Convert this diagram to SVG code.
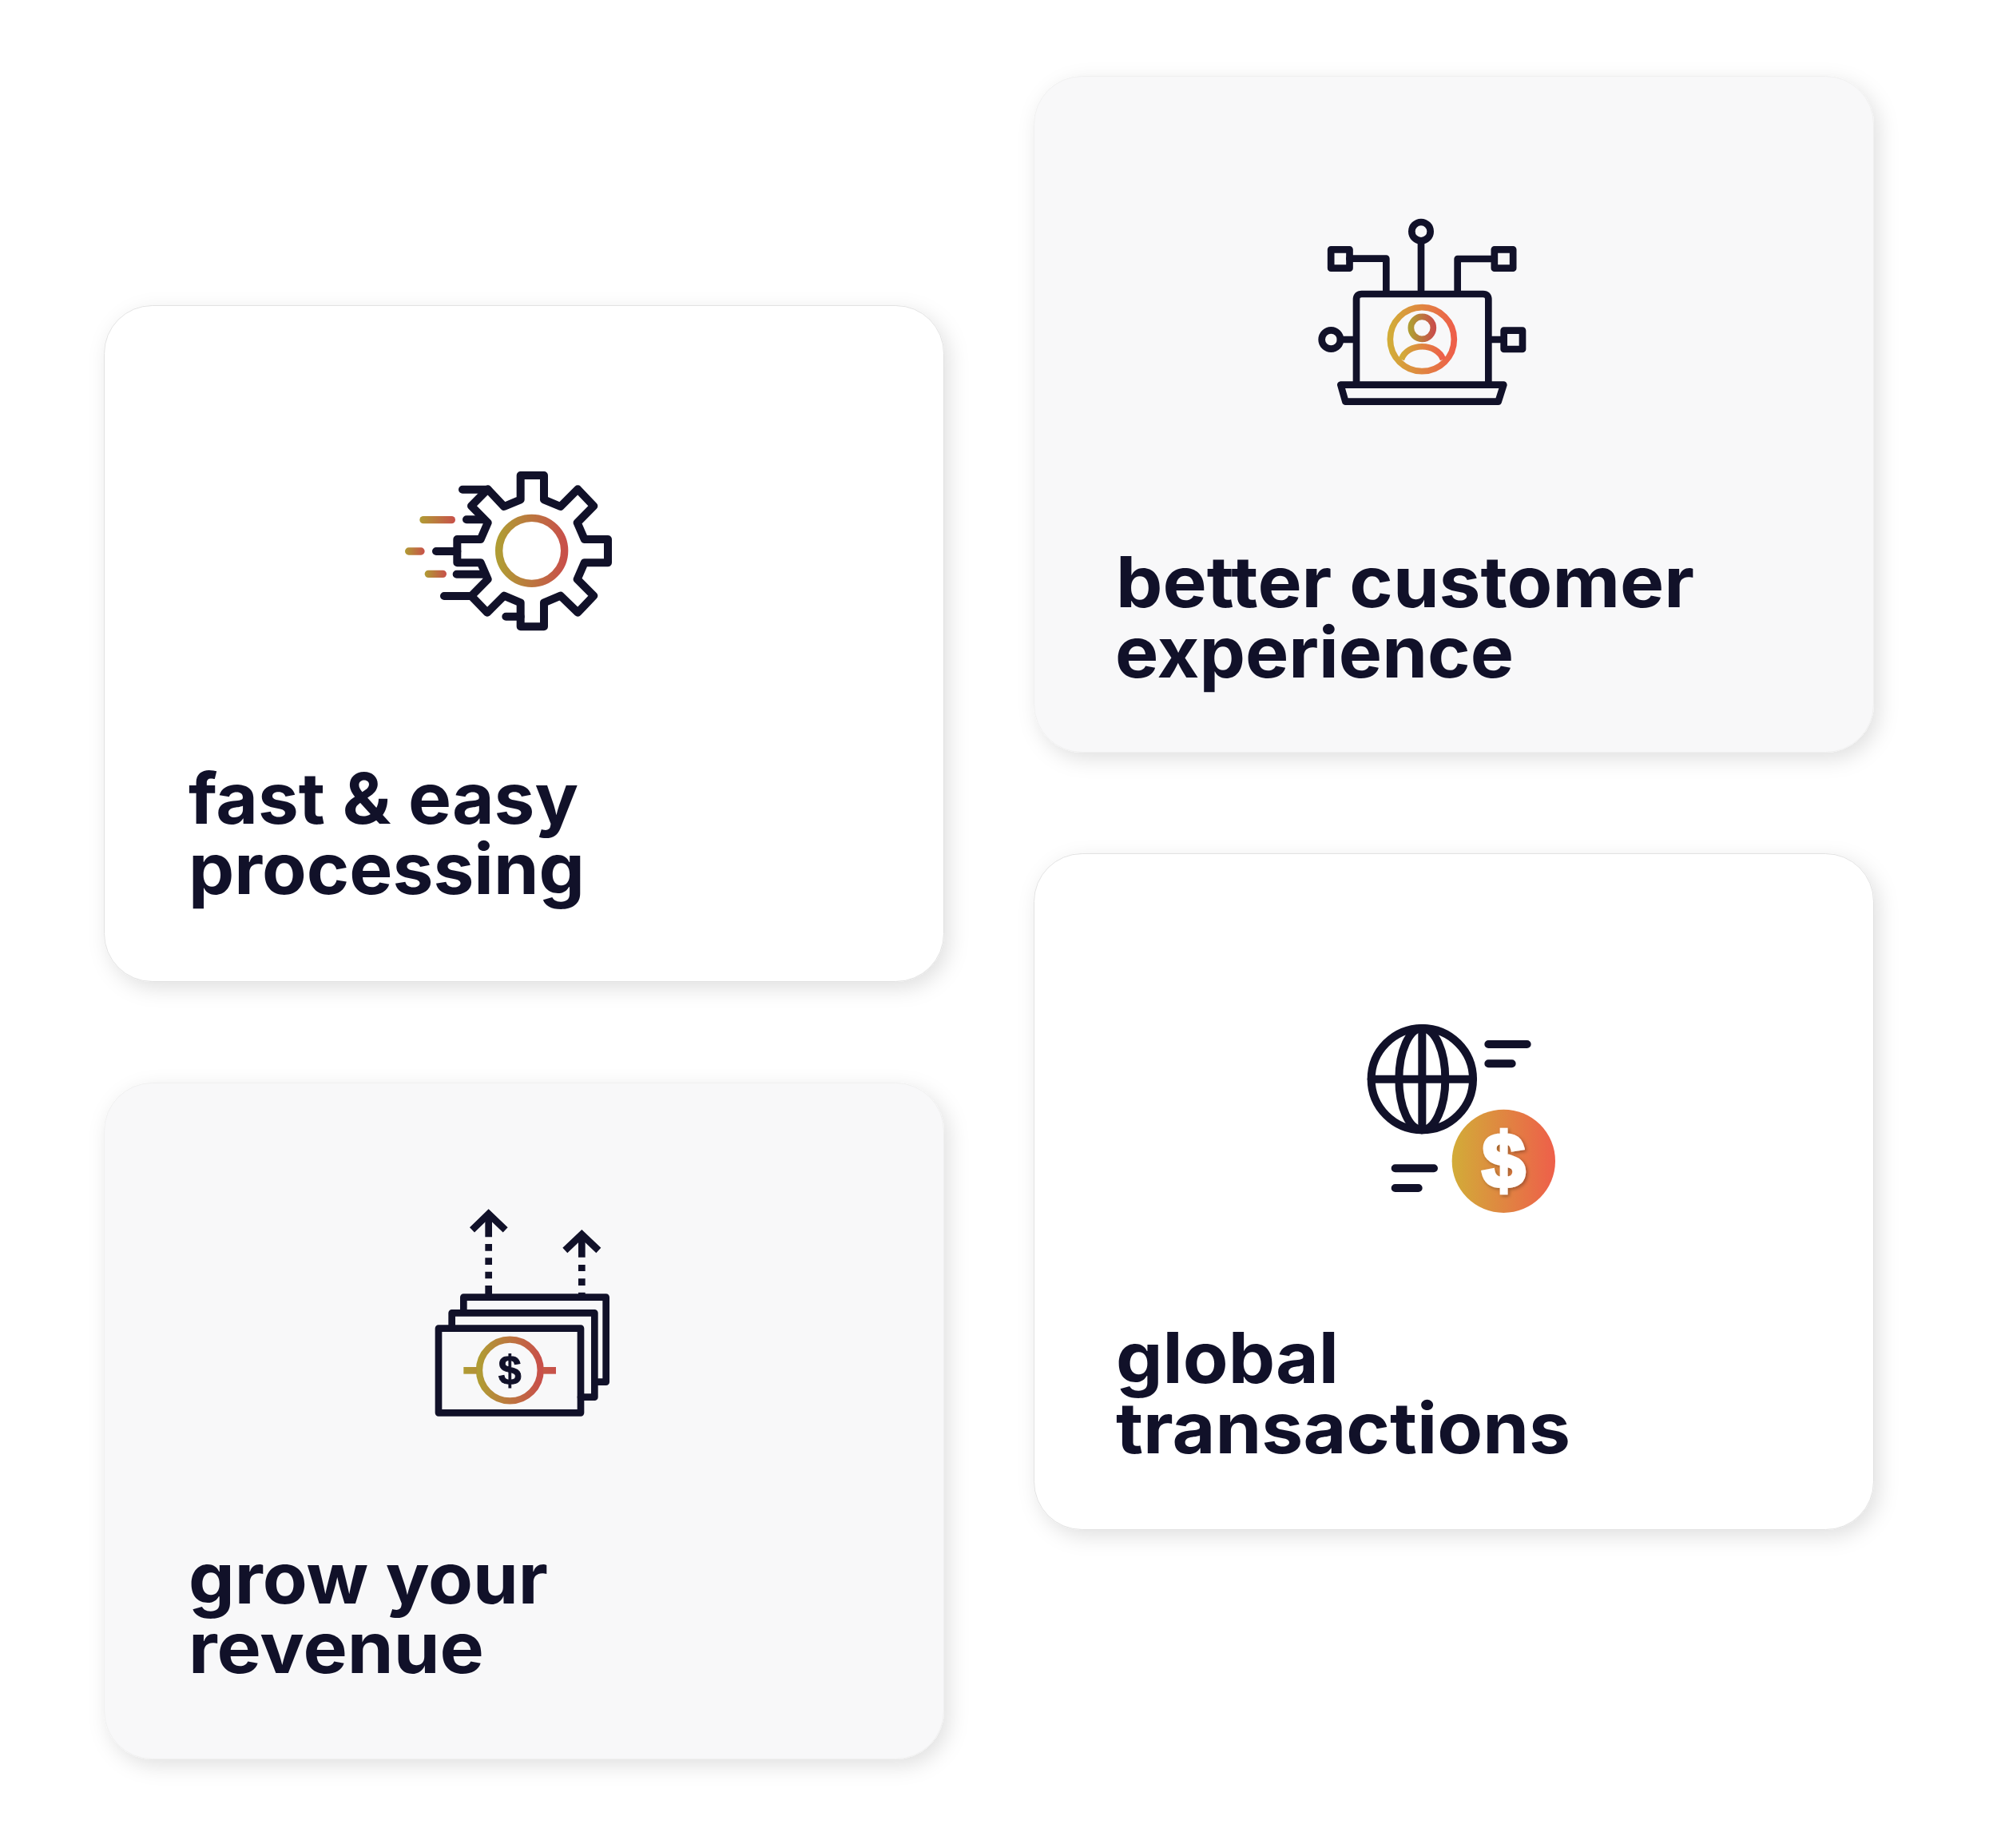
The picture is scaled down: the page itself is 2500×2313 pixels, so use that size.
<svg xmlns="http://www.w3.org/2000/svg" width="2500" height="2313" viewBox="0 0 2500 2313">
<style>
.title{font-family:"Inter","Liberation Sans",sans-serif;font-weight:700;font-size:88px;fill:#111129}
.s{fill:none;stroke:#111129;stroke-width:26;stroke-linecap:round;stroke-linejoin:round}
.b{stroke-linecap:butt;stroke-linejoin:miter}
.w{fill:#fff;stroke:#e2e2e2;stroke-width:1}.g{fill:#f8f8f9;stroke:#f0f0f0;stroke-width:1}
.d{font-family:"Liberation Sans",sans-serif;font-weight:700;text-anchor:middle}
</style>
<defs>
<linearGradient id="dim"><stop offset="0" stop-color="#b09c34"/><stop offset="1" stop-color="#c8504a"/></linearGradient>
<linearGradient id="bright"><stop offset="0" stop-color="#d2ac38"/><stop offset="1" stop-color="#ee5f4a"/></linearGradient>
<linearGradient id="money" gradientUnits="userSpaceOnUse" x1="181" y1="0" x2="528" y2="0"><stop offset="0" stop-color="#b09c34"/><stop offset="1" stop-color="#c8504a"/></linearGradient>
<filter id="sh" x="-15%" y="-15%" width="130%" height="130%"><feDropShadow dx="6" dy="8" stdDeviation="13" flood-color="#000" flood-opacity="0.12"/></filter>
<filter id="ds" x="-30%" y="-30%" width="160%" height="160%"><feDropShadow dx="6" dy="6" stdDeviation="6" flood-color="#000" flood-opacity="0.3"/></filter>
</defs>
<rect width="2500" height="2313" fill="#fff"/>

<g id="card-fast">
<rect class="w" x="130.500" y="382.500" width="1051" height="846" rx="60" filter="url(#sh)"/>
<g transform="translate(480 560) scale(.33333)">
<path class="s" style="stroke-width:30" d="M515 105H603V196L665 222L730 157L790 220L728 283L755 345H843V433H755L728 495L790 557L730 620L665 557L603 583V673H515V583L453 557L390 620L330 558L392 495L365 433H277V345H365L392 283L330 220L392 157L453 222L515 196Z"/>
<path class="s" style="stroke-width:30" d="M297 158H392M312 271H375M198 390H277M275 476H375M228 558H330M460 635H515"/>
<rect x="136" y="258" width="134" height="28" rx="14" fill="url(#dim)"/>
<rect x="81" y="376" width="74" height="28" rx="14" fill="url(#dim)"/>
<rect x="155" y="461" width="82" height="28" rx="14" fill="url(#dim)"/>
<circle cx="557" cy="388" r="123" fill="none" stroke="url(#dim)" stroke-width="28"/>
</g>
<text class="title" x="236" y="1031" textLength="488" lengthAdjust="spacingAndGlyphs">fast &amp; easy</text>
<text class="title" x="236" y="1119" textLength="496" lengthAdjust="spacingAndGlyphs">processing</text>
</g>

<g id="card-customer">
<rect class="g" x="1294.500" y="95.500" width="1051" height="846" rx="60" filter="url(#sh)"/>
<g transform="translate(1630 250) scale(.33333)">
<path class="s" d="M204 695V375Q204 354 224 354H680Q700 354 700 375V695M145 695H757L737 758H163ZM447 155V354M178 221H316V354M722 222H584V354M144 525H204M700 525H758"/>
<circle class="s" cx="447" cy="119" r="35"/>
<circle class="s" cx="109" cy="525" r="35"/>
<rect class="s" x="108.500" y="187" width="70" height="70"/>
<rect class="s" x="722.500" y="187" width="70" height="70"/>
<rect class="s" x="758" y="491" width="70" height="70"/>
<circle cx="451" cy="524" r="120" fill="none" stroke="url(#bright)" stroke-width="23"/>
<circle cx="451" cy="481" r="42" fill="none" stroke="url(#dim)" stroke-width="23"/>
<path d="M373 600C395 535 507 535 530 600" fill="none" stroke="url(#bright)" stroke-width="23"/>
</g>
<text class="title" x="1397" y="760" textLength="724" lengthAdjust="spacingAndGlyphs">better customer</text>
<text class="title" x="1396" y="848" textLength="499" lengthAdjust="spacingAndGlyphs">experience</text>
</g>

<g id="card-global">
<rect class="w" x="1294.500" y="1068.500" width="1051" height="846" rx="60" filter="url(#sh)"/>
<g transform="translate(1680 1261) scale(.33333)">
<g class="s" style="stroke-width:30">
<circle cx="301" cy="269" r="191"/>
<ellipse cx="301" cy="269" rx="87" ry="191"/>
<path d="M301 78V460M110 269H492"/>
</g>
<path class="s" style="stroke-width:30" d="M550 138H695M550 211H638M200 604H345M200 678H287"/>
<circle cx="607" cy="577" r="194" fill="url(#bright)"/>
<text class="d" x="607" y="674" font-size="290" fill="#fff" stroke="#fff" stroke-width="14" filter="url(#ds)">$</text>
</g>
<text class="title" x="1397" y="1731" textLength="279" lengthAdjust="spacingAndGlyphs">global</text>
<text class="title" x="1397" y="1819" textLength="569" lengthAdjust="spacingAndGlyphs">transactions</text>
</g>

<g id="card-grow">
<rect class="g" x="130.500" y="1355.500" width="1051" height="846" rx="60" filter="url(#sh)"/>
<g transform="translate(520 1491) scale(.33333)">
<rect class="s" x="87" y="515" width="534" height="317"/>
<path class="s" d="M137 515V457H673V773H621M181 457V398H716V716H673"/>
<path class="s b" d="M213 145L275 85L338 145M562 222L625 162L688 222"/>
<path class="s b" d="M275 95V172M275 198V224M275 250V276M275 302V328M275 354V398M625 172V248M625 276V300M625 328V354M625 380V398"/>
<circle cx="355" cy="672" r="115" fill="none" stroke="url(#dim)" stroke-width="25"/>
<rect x="181" y="660" width="50" height="26" fill="url(#money)"/>
<rect x="480" y="660" width="48" height="26" fill="url(#money)"/>
<text class="d" x="355" y="725" font-size="156" fill="#111129" stroke="#111129" stroke-width="3">$</text>
</g>
<text class="title" x="236" y="2007" textLength="450" lengthAdjust="spacingAndGlyphs">grow your</text>
<text class="title" x="236" y="2094" textLength="370" lengthAdjust="spacingAndGlyphs">revenue</text>
</g>
</svg>
